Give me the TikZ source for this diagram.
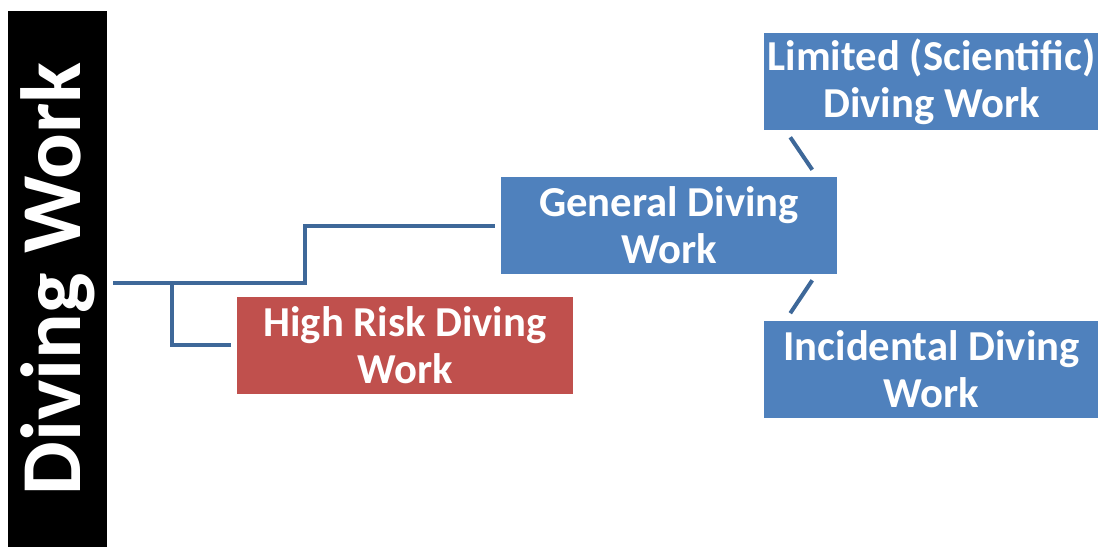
\documentclass[tikz,border=0pt]{standalone}
\usepackage{fontspec}
\setmainfont{Carlito}
\usetikzlibrary{positioning, calc}
\definecolor{genblue}{RGB}{79, 129, 189}
\definecolor{riskred}{RGB}{192, 80, 77}
\definecolor{linkblue}{RGB}{62, 104, 153}

\begin{document}
\begin{tikzpicture}[x=0.75pt, y=-0.75pt,
    box/.style={rectangle, fill=genblue, text=white, minimum width=252pt,
                minimum height=72.75pt, align=center, inner sep=0pt,
                font=\fontsize{32}{35}\selectfont\bfseries},
    link/.style={draw=linkblue, line width=3pt}]

    \useasboundingbox (0,0) rectangle (1098,547);

    % title bar
    \node[fill=black, text=white, rotate=90, minimum width=402pt, minimum height=74.25pt,
          inner sep=0pt, font=\fontsize{64}{70}\selectfont\bfseries] (title) at (57.5,279) {Diving Work};

    \node[box] (general) at (669,225.5) {General Diving\\Work};
    \node[box] (limited) at (931.5,81.5) {Limited (Scientific)\\Diving Work};
    \node[box] (incidental) at (931.5,369) {Incidental Diving\\Work};
    \node[box, fill=riskred] (highrisk) at (405,345) {High Risk Diving\\Work};

    \coordinate (root) at (113,283);
    \coordinate (fork) at (172,283);

    \draw[link] (root) -- ++(192,0) |- ([xshift=-4pt]general.west);
    \draw[link] (fork) |- ([xshift=-4pt]highrisk.west);
    \draw[link] ($(limited.south west)+(27,7)$) -- ($(general.north east)+(-25,-7)$);
    \draw[link] ($(general.south east)+(-25,6)$) -- ($(incidental.north west)+(27,-7)$);
\end{tikzpicture}
\end{document}
